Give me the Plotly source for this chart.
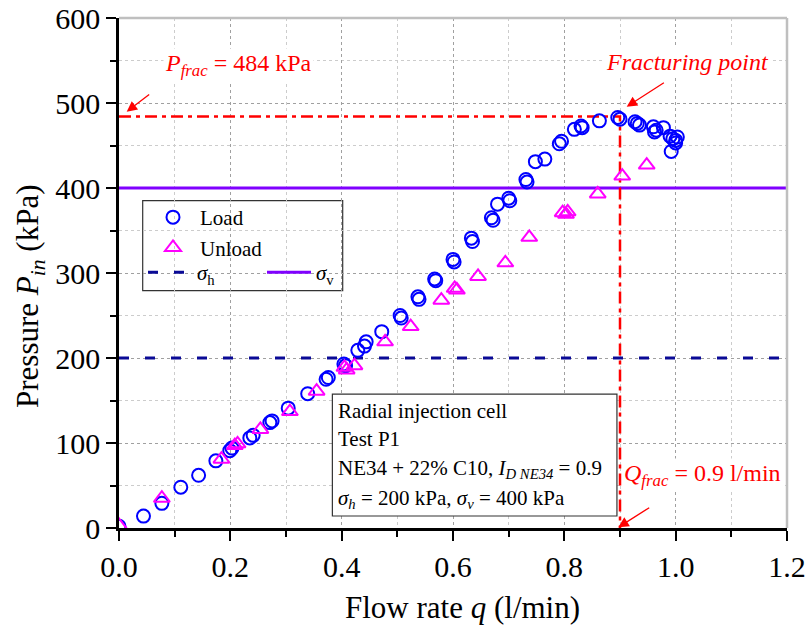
import plotly.graph_objects as go

# ---------------- data ----------------
load_q = [0.000, 0.044, 0.077, 0.111, 0.143, 0.174, 0.199, 0.203, 0.235, 0.241,
          0.271, 0.275, 0.304, 0.339, 0.372, 0.376, 0.404, 0.407, 0.429, 0.441,
          0.444, 0.472, 0.505, 0.507, 0.537, 0.539, 0.567, 0.569, 0.600, 0.602,
          0.633, 0.635, 0.669, 0.672, 0.680, 0.700, 0.702, 0.731, 0.733, 0.748,
          0.765, 0.791, 0.795, 0.818, 0.830, 0.832, 0.863, 0.896, 0.900, 0.927,
          0.931, 0.935, 0.960, 0.962, 0.965, 0.978, 0.990, 0.995, 1.000, 1.003,
          0.992, 1.000]
load_p = [2, 14, 29, 48, 62, 79, 91, 94, 106, 109,
          124, 126, 141, 158, 175, 177, 193, 191, 209, 214,
          219, 231, 250, 247, 272, 269, 293, 291, 316, 313,
          341, 337, 365, 362, 381, 388, 385, 410, 407, 431,
          434, 452, 455, 469, 473, 471, 479, 483, 481, 478,
          476, 474, 472, 466, 468, 471, 461, 458, 456, 460,
          443, 453]

unload_q = [0.000, 0.077, 0.184, 0.208, 0.213, 0.254, 0.307, 0.355, 0.405, 0.409,
            0.423, 0.478, 0.524, 0.579, 0.603, 0.607, 0.645, 0.694, 0.737, 0.797,
            0.803, 0.806, 0.860, 0.904, 0.948]
unload_p = [3, 35, 81, 97, 99, 116, 137, 161, 189, 186,
            191, 219, 237, 268, 282, 280, 296, 312, 342, 371,
            369, 372, 393, 414, 427]

sigma_h = 200
sigma_v = 400
p_frac = 484
q_frac = 0.9

x_range = [0, 1.2]
y_range = [0, 600]
x_ticks = [0.0, 0.2, 0.4, 0.6, 0.8, 1.0, 1.2]
x_tick_labels = ["0.0", "0.2", "0.4", "0.6", "0.8", "1.0", "1.2"]
x_minor = [0.1, 0.3, 0.5, 0.7, 0.9, 1.1]
y_ticks = [0, 100, 200, 300, 400, 500, 600]
y_tick_labels = ["0", "100", "200", "300", "400", "500", "600"]
y_minor = [50, 150, 250, 350, 450, 550]

FONT = "Liberation Serif"

W, H = 808, 633
L, T, R, B = 119, 18, 21, 105
PW, PH = W - L - R, H - T - B   # plot area size in px


def px_x(wx):  # page x pixel -> paper x
    return (wx - L) / PW


def px_y(wy):  # page y pixel -> paper y
    return (H - B - wy) / PH


fig = go.Figure()

fig.add_trace(go.Scatter(
    x=x_range, y=[sigma_h, sigma_h], mode="lines",
    name="<i>σ</i><sub>h</sub>",
    line=dict(color="#0a0a96", width=3, dash="10px,16px"),
    legend="legend2"))
fig.add_trace(go.Scatter(
    x=x_range, y=[sigma_v, sigma_v], mode="lines",
    name="<i>σ</i><sub>v</sub>",
    line=dict(color="#8000ff", width=3),
    legend="legend2"))
fig.add_trace(go.Scatter(
    x=[x_range[0], q_frac, q_frac], y=[p_frac, p_frac, y_range[0]], mode="lines",
    line=dict(color="#ff0000", width=2.5, dash="12px,5px,4px,5px"),
    showlegend=False, hoverinfo="skip"))
fig.add_trace(go.Scatter(
    x=load_q, y=load_p, mode="markers", name="Load",
    marker=dict(symbol="circle-open", size=13, color="#0000ff",
                line=dict(width=2, color="#0000ff")),
    legend="legend"))
fig.add_trace(go.Scatter(
    x=unload_q, y=unload_p, mode="markers", name="Unload",
    marker=dict(symbol="triangle-up-open", size=14, color="#ff00ff",
                line=dict(width=2, color="#ff00ff")),
    legend="legend"))

axis_common = dict(
    ticks="outside", ticklen=10, tickwidth=2, tickcolor="black",
    showline=True, linecolor="black", linewidth=2.5,
    showgrid=True, gridcolor="#a0a0a0", griddash="dot", gridwidth=1,
    zeroline=False, automargin=False, ticklabeloverflow="allow",
    tickfont=dict(family=FONT, size=30, color="black"),
)

fig.update_layout(
    width=W, height=H,
    margin=dict(l=L, r=R, t=T, b=B, autoexpand=False),
    plot_bgcolor="white", paper_bgcolor="white",
    font=dict(family=FONT, color="black"),
    xaxis=dict(range=x_range, tickmode="array", tickvals=x_ticks, ticktext=x_tick_labels,
               minor=dict(tickmode="array", tickvals=x_minor, ticks="outside", ticklen=6, tickwidth=2,
                          tickcolor="black", showgrid=True, gridcolor="#cccccc", griddash="3px,3px"),
               **axis_common),
    yaxis=dict(range=y_range, tickmode="array", tickvals=y_ticks, ticktext=y_tick_labels,
               minor=dict(tickmode="array", tickvals=y_minor, ticks="outside", ticklen=6, tickwidth=2,
                          tickcolor="black", showgrid=True, gridcolor="#cccccc", griddash="3px,3px"),
               **axis_common),
    legend=dict(x=px_x(146), y=px_y(197), xanchor="left", yanchor="top",
                bgcolor="rgba(0,0,0,0)", borderwidth=0, itemwidth=44, tracegroupgap=0,
                font=dict(family=FONT, size=21, color="black")),
    legend2=dict(orientation="h", x=px_x(143), y=px_y(252),
                 xanchor="left", yanchor="top", bgcolor="rgba(0,0,0,0)", borderwidth=0,
                 itemwidth=44, entrywidth=60, entrywidthmode="pixels",
                 font=dict(family=FONT, size=21, color="black")),
)

# axis titles
fig.add_annotation(x=px_x(462), y=px_y(607), xref="paper", yref="paper",
                   text="Flow rate <i>q</i> (l/min)", showarrow=False,
                   xanchor="center", yanchor="middle",
                   font=dict(family=FONT, size=31, color="black"))
fig.add_annotation(x=px_x(30), y=px_y(296), xref="paper", yref="paper",
                   text="Pressure <i>P</i><sub><i>in</i></sub> (kPa)", showarrow=False,
                   textangle=-90, xanchor="center", yanchor="middle",
                   font=dict(family=FONT, size=31, color="black"))

# legend frame, text box frame, top/right border
fig.add_shape(type="rect", xref="paper", yref="paper",
              x0=px_x(142.7), x1=px_x(342.7), y0=px_y(290.7), y1=px_y(200.7),
              line=dict(color="#333333", width=1.2), fillcolor="white", layer="between")
fig.add_shape(type="rect", xref="x", yref="y",
              x0=0.3833, x1=0.8945, y0=14.1, y1=157.6,
              line=dict(color="#333333", width=1.2), fillcolor="white", layer="between")
fig.add_shape(type="line", xref="paper", yref="paper", x0=0, x1=1, y0=1, y1=1,
              line=dict(color="#bfbfbf", width=2.5), layer="above")
fig.add_shape(type="line", xref="paper", yref="paper", x0=1, x1=1, y0=0, y1=1,
              line=dict(color="#bfbfbf", width=2.5), layer="above")

box_lines = [
    "Radial injection cell",
    "Test P1",
    "NE34 + 22% C10, <i>I</i><sub><i>D NE34</i></sub> = 0.9",
    "<i>σ</i><sub><i>h</i></sub> = 200 kPa, <i>σ</i><sub><i>v</i></sub> = 400 kPa",
]
box_y = [137.5, 104.7, 69.4, 34.1]
for txt, yy in zip(box_lines, box_y):
    fig.add_annotation(x=0.3905, y=yy, xref="x", yref="y", text=txt, showarrow=False,
                       xanchor="left", yanchor="middle",
                       font=dict(family=FONT, size=21, color="black"))

RED = "#ff0000"
fig.add_annotation(x=0.214, y=545, xref="x", yref="y",
                   text="<i>P</i><sub><i>frac</i></sub> = 484 kPa", showarrow=False,
                   font=dict(family=FONT, size=24, color=RED), bgcolor="white")
fig.add_annotation(x=1.022, y=548.6, xref="x", yref="y",
                   text="<i>Fracturing point</i>", showarrow=False,
                   font=dict(family=FONT, size=24, color=RED), bgcolor="white")
fig.add_annotation(x=1.049, y=62.4, xref="x", yref="y",
                   text="<i>Q</i><sub><i>frac</i></sub> = 0.9 l/min", showarrow=False,
                   font=dict(family=FONT, size=24, color=RED), bgcolor="white")

for hx, hy, ax, ay in [(0.0138, 489.8, 24, -18.4), (0.912, 495.6, 38.7, -25), (0.897, 0.8, 32.4, -20.6)]:
    fig.add_annotation(x=hx, y=hy, xref="x", yref="y", text="", showarrow=True,
                       ax=ax, ay=ay, arrowhead=2, arrowsize=1.6, arrowwidth=1.3,
                       arrowcolor=RED, standoff=0, startstandoff=0)

fig.write_html("out.html", config={"displayModeBar": False},
               post_script="document.body.style.margin='0';")
